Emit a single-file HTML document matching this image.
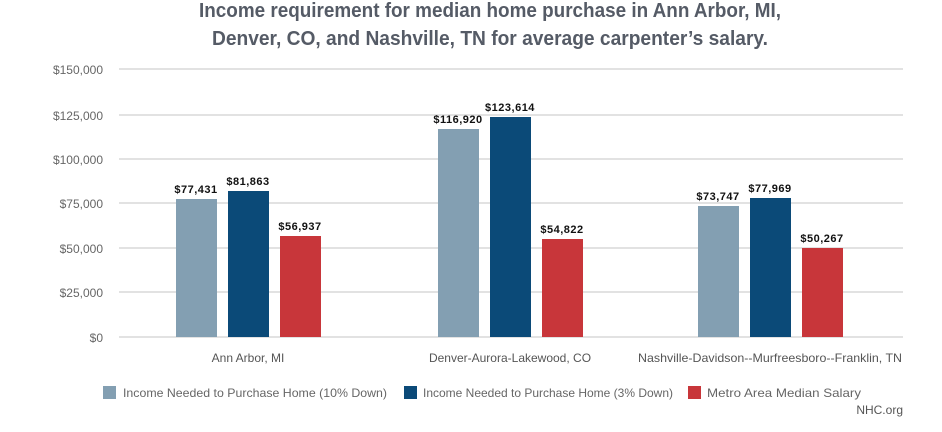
<!DOCTYPE html>
<html><head><style>
html,body{margin:0;padding:0;background:#fff;}
svg{display:block;font-family:"Liberation Sans",sans-serif;}
</style></head><body>
<svg width="942" height="432" viewBox="0 0 942 432">
<text x="490" y="17" text-anchor="middle" font-size="20" font-weight="bold" fill="#555b66" textLength="582" lengthAdjust="spacingAndGlyphs">Income requirement for median home purchase in Ann Arbor, MI,</text>
<text x="490" y="45" text-anchor="middle" font-size="20" font-weight="bold" fill="#555b66" textLength="556" lengthAdjust="spacingAndGlyphs">Denver, CO, and Nashville, TN for average carpenter’s salary.</text>
<g stroke="#d9d9d9" stroke-width="1.5">
<line x1="119" x2="903" y1="69" y2="69"/><line x1="119" x2="903" y1="115" y2="115"/>
<line x1="119" x2="903" y1="159" y2="159"/><line x1="119" x2="903" y1="203" y2="203"/>
<line x1="119" x2="903" y1="248" y2="248"/><line x1="119" x2="903" y1="292" y2="292"/>
<line x1="119" x2="903" y1="337" y2="337"/>
</g>
<g font-size="12" fill="#666" text-anchor="end">
<text x="103" y="74">$150,000</text><text x="103" y="120">$125,000</text>
<text x="103" y="164">$100,000</text><text x="103" y="208">$75,000</text>
<text x="103" y="253">$50,000</text><text x="103" y="297">$25,000</text>
<text x="103" y="342">$0</text>
</g>
<g>
<rect x="176" y="199" width="41" height="138" fill="#839fb2"/>
<rect x="228" y="191" width="41" height="146" fill="#0b4a78"/>
<rect x="280" y="236" width="41" height="101" fill="#c8363a"/>
<rect x="438" y="129" width="41" height="208" fill="#839fb2"/>
<rect x="490" y="117" width="41" height="220" fill="#0b4a78"/>
<rect x="542" y="239" width="41" height="98" fill="#c8363a"/>
<rect x="698" y="206" width="41" height="131" fill="#839fb2"/>
<rect x="750" y="198" width="41" height="139" fill="#0b4a78"/>
<rect x="802" y="248" width="41" height="89" fill="#c8363a"/>
</g>
<g font-size="11" font-weight="bold" fill="#111" text-anchor="middle" letter-spacing="0.5">
<text x="196" y="193">$77,431</text><text x="248" y="185">$81,863</text><text x="300" y="230">$56,937</text>
<text x="458" y="123">$116,920</text><text x="510" y="111">$123,614</text><text x="562" y="233">$54,822</text>
<text x="718" y="200">$73,747</text><text x="770" y="192">$77,969</text><text x="822" y="242">$50,267</text>
</g>
<g font-size="12" fill="#555" text-anchor="middle">
<text x="248" y="362">Ann Arbor, MI</text>
<text x="510" y="362">Denver-Aurora-Lakewood, CO</text>
<text x="770" y="362" textLength="264" lengthAdjust="spacingAndGlyphs">Nashville-Davidson--Murfreesboro--Franklin, TN</text>
</g>
<rect x="103" y="386" width="13" height="13" fill="#839fb2"/>
<rect x="404" y="386" width="13" height="13" fill="#0b4a78"/>
<rect x="688" y="386" width="13" height="13" fill="#c8363a"/>
<g font-size="12" fill="#666">
<text x="123" y="397" textLength="264" lengthAdjust="spacingAndGlyphs">Income Needed to Purchase Home (10% Down)</text>
<text x="423" y="397" textLength="250" lengthAdjust="spacingAndGlyphs">Income Needed to Purchase Home (3% Down)</text>
<text x="707" y="397" textLength="154" lengthAdjust="spacingAndGlyphs">Metro Area Median Salary</text>
<text x="903" y="414" text-anchor="end" fill="#555">NHC.org</text>
</g>
</svg>
</body></html>
